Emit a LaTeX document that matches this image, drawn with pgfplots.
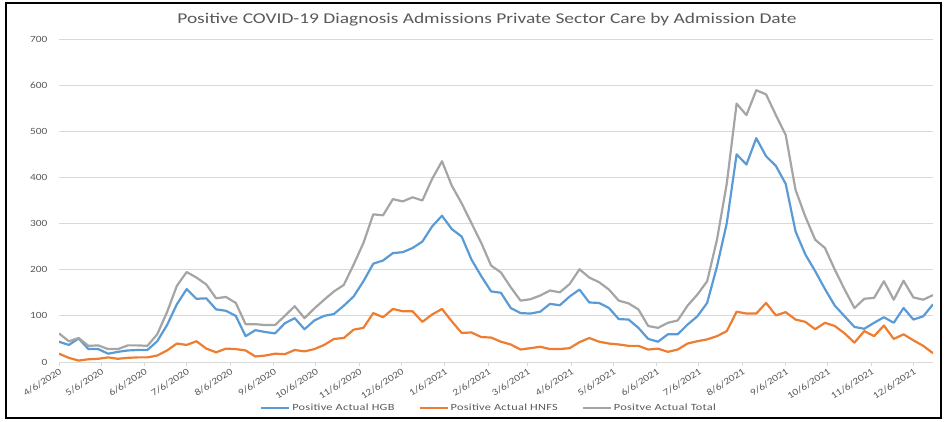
\documentclass[border=0pt]{standalone}
\usepackage{pgfplots}
\pgfplotsset{compat=1.18}
\usepackage{pgfplotstable}
\usepackage{fontspec}
\setmainfont{Carlito}[FakeStretch=1.2]
\newfontfamily\titlefont{Carlito}[FakeStretch=1.3]
\newfontfamily\legfont{Carlito}[FakeStretch=1.3, LetterSpace=3]
\definecolor{hgb}{HTML}{5B9BD5}
\definecolor{hnfs}{HTML}{ED7D31}
\definecolor{tot}{HTML}{A5A5A5}
\definecolor{txt}{HTML}{595959}
\definecolor{gridc}{HTML}{D9D9D9}

\pgfplotstableread{
day hgb hnfs total
0 44 18 62
7 37 9 45
14 51 3 52
21 28 6 35
28 28 7 36
35 18 10 28
42 22 7 28
49 25 9 36
56 26 10 36
63 26 10 35
70 45 14 60
77 80 25 108
84 125 40 165
91 158 37 195
98 137 45 183
105 138 29 168
112 114 21 138
119 111 29 141
126 100 28 128
133 56 25 82
140 69 12 82
147 65 14 80
154 62 18 80
161 84 17 100
168 95 26 121
175 71 23 95
182 90 28 116
189 100 37 135
196 104 50 153
203 122 52 167
210 142 70 211
217 175 74 258
224 213 106 320
231 220 97 318
238 236 115 353
245 238 110 348
252 247 110 357
259 261 87 350
266 294 103 397
273 317 115 435
280 288 88 382
287 272 63 344
294 222 64 301
301 186 54 258
308 153 53 209
315 150 44 194
322 117 38 162
329 106 27 133
336 105 30 136
343 109 33 144
350 126 28 155
357 123 28 151
364 142 30 169
371 157 43 201
378 129 52 183
385 128 44 173
392 117 40 157
399 93 38 133
406 92 35 127
413 74 35 114
420 50 27 78
427 44 29 74
434 60 22 85
441 60 27 90
448 81 40 122
455 99 45 146
462 128 49 175
469 207 56 265
476 301 67 387
483 450 109 560
490 428 105 535
497 485 105 589
504 446 128 580
511 425 101 535
518 386 108 492
525 283 92 373
532 233 87 315
539 197 71 265
546 158 85 247
553 122 78 200
560 99 62 157
567 76 42 117
574 72 67 137
581 85 56 139
588 97 79 175
595 85 50 135
602 117 60 176
609 92 47 140
616 99 35 135
623 125 19 145
}\datatable

\begin{document}
\begin{tikzpicture}[x=1bp,y=1bp]
\path (0,0) rectangle (951,421);
\draw[line width=2bp] (6,3) rectangle (941,418);
\node[text=txt, font=\titlefont\fontsize{15}{17}\selectfont] at (487,401) {Positive COVID-19 Diagnosis Admissions Private Sector Care by Admission Date};
\begin{axis}[
  at={(59bp,59bp)}, anchor=south west,
  width=874bp, height=323bp, scale only axis,
  xmin=0, xmax=623, ymin=0, ymax=700,
  ytick={0,100,...,700},
  xtick={0,30,61,91,122,153,183,214,244,275,306,334,365,395,426,456,487,518,548,579,609},
  xticklabels={4/6/2020,5/6/2020,6/6/2020,7/6/2020,8/6/2020,9/6/2020,10/6/2020,11/6/2020,12/6/2020,1/6/2021,2/6/2021,3/6/2021,4/6/2021,5/6/2021,6/6/2021,7/6/2021,8/6/2021,9/6/2021,10/6/2021,11/6/2021,12/6/2021},
  ymajorgrids, grid style={gridc, line width=0.8bp},
  axis line style={draw=none},
  xtick pos=bottom, ytick pos=left,
  tick align=outside, major tick length=4bp,
  xtick style={gridc, line width=0.8bp},
  ytick style={draw=none},
  /pgf/number format/assume math mode=true,
  x tick label style={rotate=33, anchor=north east, inner sep=1bp, font=\fontsize{9.5}{10}\selectfont, text=txt},
  y tick label style={font=\fontsize{9.5}{10}\selectfont, text=txt, xshift=-4bp},
  legend columns=3,
  legend style={at={(0.492,-0.142)}, anchor=center, draw=none, fill=none,
    font=\legfont\fontsize{9.5}{10}\selectfont, text=txt,
    /tikz/every even column/.append style={column sep=22bp}},
  legend image code/.code={\draw[#1] (0bp,0bp) -- (28bp,0bp);},
]
\addplot[hgb, line width=2.2bp, line join=round] table[x=day, y=hgb] {\datatable};
\addlegendentry{Positive Actual HGB}
\addplot[hnfs, line width=2.2bp, line join=round] table[x=day, y=hnfs] {\datatable};
\addlegendentry{Positive Actual HNFS}
\addplot[tot, line width=2.2bp, line join=round] table[x=day, y=total] {\datatable};
\addlegendentry{Positve Actual Total}
\end{axis}
\end{tikzpicture}
\end{document}
